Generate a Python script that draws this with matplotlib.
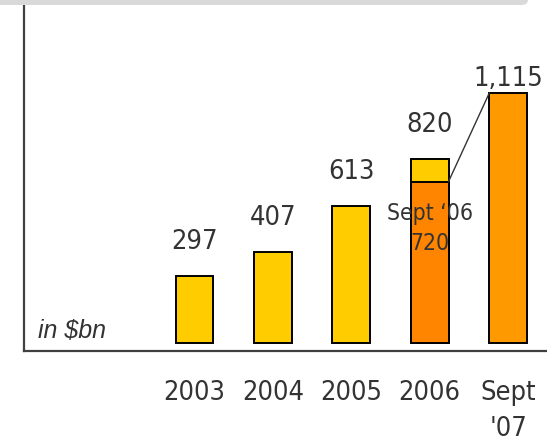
import matplotlib.pyplot as plt
from matplotlib.patches import FancyBboxPatch

# values in $bn
categories = ["2003", "2004", "2005", "2006", "Sept\n'07"]
values = [297, 407, 613, 820, 1115]
value_labels = ["297", "407", "613", "820", "1,115"]
sept06_value = 720
sept06_label = "Sept \u201806\n720"
unit_label = "in $bn"

bar_colors = ["#FFCC00", "#FFCC00", "#FFCC00", "#FFCC00", "#FF9900"]
sept06_color = "#FF8400"
text_color = "#333333"

W, H = 547, 445
fig = plt.figure(figsize=(W / 100, H / 100), dpi=100)

# grey band at the top
band = FancyBboxPatch((-10 / W, 1 - 5 / H), 538 / W, 12 / H,
                      boxstyle="round,pad=0,rounding_size=0.012",
                      transform=fig.transFigure, facecolor="#d9d9d9",
                      edgecolor="none")
fig.patches.append(band)

ax = fig.add_axes([23.5 / W, (H - 351) / H, (W - 23.5) / W, (351 - 5) / H])
x = list(range(len(categories)))
bw = 0.48
big = dict(fontsize=19.5, family="DejaVu Sans", fontstretch="condensed", color=text_color)

ax.bar(x, values, width=bw, color=bar_colors, edgecolor="black", linewidth=1.4, zorder=2)
# Sept '06 portion inside the 2006 bar
ax.bar([x[3]], [sept06_value], width=bw, color=sept06_color, edgecolor="black",
       linewidth=1.4, zorder=3)

# connector from Sept '06 to Sept '07
ax.plot([x[3] + bw / 2, x[4] - bw / 2], [sept06_value, values[4]],
        color="#333333", linewidth=1.0, zorder=4)

for i, (v, lab) in enumerate(zip(values, value_labels)):
    off = 21 if i < 4 else 1
    ax.annotate(lab, (x[i], v), xytext=(0, off * 0.72), textcoords="offset points",
                ha="center", va="bottom", **big)

ax.text(x[3], sept06_value - 90, sept06_label, ha="center", va="top",
        fontsize=16.5, family="DejaVu Sans", fontstretch="condensed",
        color=text_color, linespacing=1.4, zorder=5)

ax.text(-2.0, 0, unit_label, ha="left", va="bottom", fontsize=18,
        style="italic", family=["Liberation Sans", "DejaVu Sans"], color=text_color)

ax.set_xlim(-2.181, 4.496)
ax.set_ylim(-35.7, 1507.6)
ax.set_xticks(x)
ax.set_xticklabels(categories, linespacing=1.5, **big)
ax.tick_params(axis="x", length=0, pad=21)
ax.set_yticks([])

for s in ["top", "right"]:
    ax.spines[s].set_visible(False)
for s in ["left", "bottom"]:
    ax.spines[s].set_color("#404040")
    ax.spines[s].set_linewidth(1.6)

fig.savefig("out.png", dpi=100)
